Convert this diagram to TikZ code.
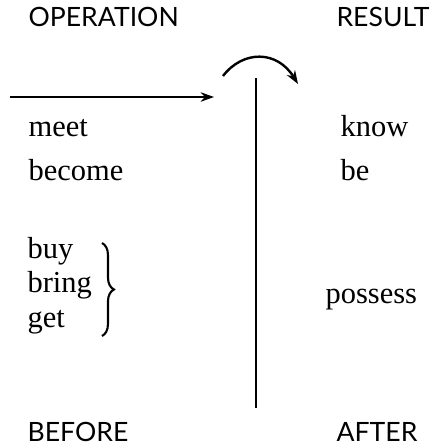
\documentclass[tikz,border=0pt]{standalone}
\usepackage{fontspec}
\setmainfont{Liberation Serif}
\newfontfamily\verbfont{Liberation Serif}
\newfontfamily\capsfont{Lato}
\usetikzlibrary{arrows.meta, positioning, decorations.pathreplacing}

\begin{document}
\begin{tikzpicture}[
  x=0.01176cm, y=-0.01176cm,
  >={Stealth[length=4.5pt, width=3.2pt]},
  heading/.style={font=\capsfont\fontsize{8.9}{10}\selectfont, inner sep=0pt},
  verb/.style={font=\verbfont\fontsize{10.2}{12}\selectfont, inner sep=0pt, anchor=base west},
  arr/.style={->, line width=0.45pt},
]

% Frame
\useasboundingbox (0,0) rectangle (433,445);

% =============================================
% Headings
% =============================================
\node[heading, anchor=base west] (operation) at (28,26) {OPERATION};
\node[heading, anchor=base east] (result) at (430,26) {RESULT};
\node[heading, anchor=base west] (before) at (27,441) {BEFORE};
\node[heading, anchor=base east] (after) at (418,441) {AFTER};

% =============================================
% Time line and arrows
% =============================================
\coordinate (arrstart) at (10,97);
\coordinate (arrend) at (214,97);
\draw[arr] (arrstart) -- (arrend);

\coordinate (linetop) at (256,78);
\coordinate (linebot) at (256,408);
\draw[line width=1pt] (linetop) -- (linebot);

\coordinate (arcstart) at (223,76);
\coordinate (arcend) at (298,84);
\draw[->, line width=0.8pt] (arcstart) .. controls (243,50) and (277,50) .. (arcend);

% =============================================
% Verbs: before (left column)
% =============================================
\node[verb] (meet) at (28,136) {meet};
\node[verb] (become) at (28,180) {become};
\node[verb] (buy) at (27,258) {buy};
\node[verb] (bring) at (27,292) {bring};
\node[verb] (get) at (27,327) {get};

% brace grouping buy / bring / get
\draw[decorate, decoration={brace, amplitude=4pt}, line width=0.7pt]
  (102,243) -- (102,336);

% =============================================
% Verbs: after (right column)
% =============================================
\node[verb] (know) at (340,136) {know};
\node[verb] (be) at (340,180) {be};
\node[verb] (possess) at (325,303) {possess};

\end{tikzpicture}
\end{document}
